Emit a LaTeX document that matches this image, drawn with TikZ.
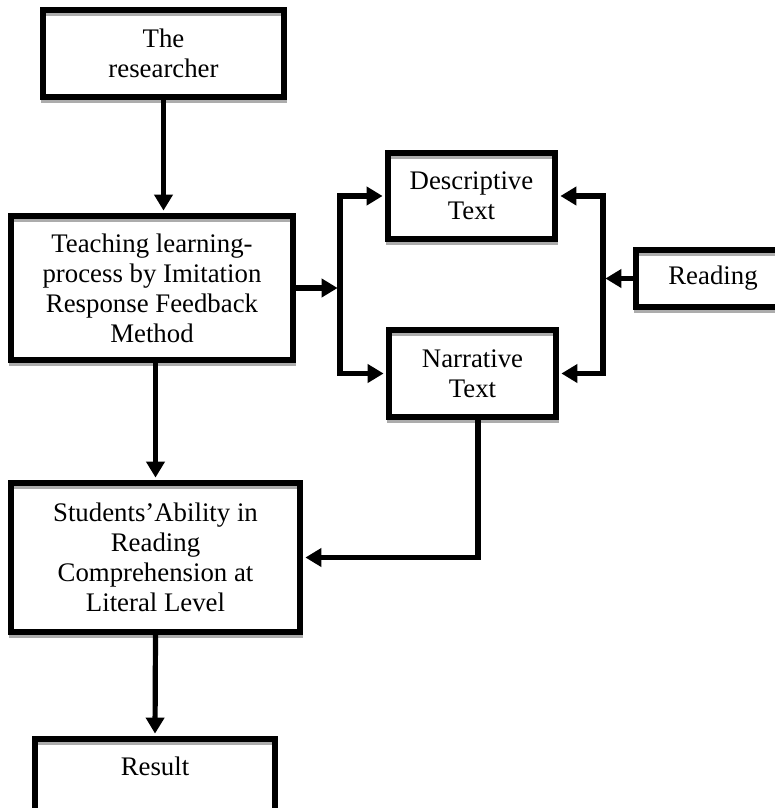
\documentclass[tikz,border=0pt]{standalone}
\usepackage{fontspec}
\setmainfont{Liberation Serif}
\usetikzlibrary{arrows.meta}
\tikzset{
  box/.style={draw, line width=3pt, align=center, inner sep=0pt,
    font=\fontsize{13.4}{15}\selectfont,
    preaction={draw=gray!65, line width=2.5pt, transform canvas={yshift=-1.6pt}}},
  arr/.style={line width=2.6pt, shorten >=1.2pt, -{Triangle[width=9pt,length=8pt]}}
}
\begin{document}
\begin{tikzpicture}[x=0.5pt, y=-0.5pt]
  \useasboundingbox (0,0) rectangle (775,808);
    \node (Res) [box, minimum width=120.5pt, minimum height=43.5pt] at (163.5,53.5) {The\\researcher};
    \node (Teach) [box, minimum width=141pt, minimum height=72pt] at (152,288) {Teaching learning-\\process by Imitation\\Response Feedback\\Method};
    \node (Desc) [box, minimum width=83.5pt, minimum height=43pt] at (471.5,196) {Descriptive\\Text};
    \node (Narr) [box, minimum width=83.5pt, minimum height=43.5pt] at (472.5,373.5) {Narrative\\Text};
    \node (Read) [box, minimum width=77pt, minimum height=28.5pt] at (713,278.5) {Reading};
    \node (Stud) [box, minimum width=144.5pt, minimum height=74.5pt] at (155.5,557.5) {Students’Ability in\\Reading\\Comprehension at\\Literal Level};
    \node (Resu) [box, minimum width=120pt, text height=18pt, text depth=22.5pt, anchor=north] at (155,736) {Result};
    \coordinate (split) at (340,288);
    \coordinate (merge) at (603,278.5);
  \draw [arr] (Res.south) -- (Res.south |- Teach.north);
  \draw [arr] (Teach.east) -- (split);
  \draw [arr] (split) |- (Desc.west);
  \draw [arr] (split) |- (Narr.west);
  \draw [arr] (Read.west) -- (merge);
  \draw [arr] (merge) |- (Desc.east);
  \draw [arr] (merge) |- (Narr.east);
  \draw [arr] ([xshift=2.75pt]Narr.south) |- (Stud.east);
  \draw [arr] (Teach.south -| Stud.north) -- (Stud.north);
  \draw [arr] (Stud.south) -- (Resu.north);
\end{tikzpicture}
\end{document}
